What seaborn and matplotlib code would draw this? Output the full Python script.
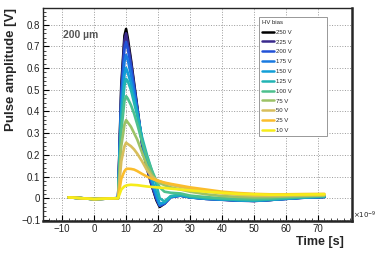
import matplotlib
matplotlib.use("Agg")
import matplotlib.pyplot as plt
import seaborn as sns
import pandas as pd
from matplotlib.lines import Line2D
from matplotlib.ticker import MultipleLocator

# time in ns
time_ns = [-8, 0, 7.5, 8.5, 9.5, 10, 10.5, 11.5, 12.5, 13.5, 15, 16.5, 18, 19.5,
           20.5, 22, 24, 27, 30, 35, 40, 45, 50, 55, 60, 65, 72]

bias_labels = ["250 V", "225 V", "200 V", "175 V", "150 V", "125 V",
               "100 V", "75 V", "50 V", "25 V", "10 V"]

v_250 = [0.004, -0.004, 0.0, 0.52, 0.75, 0.78, 0.74, 0.64, 0.53, 0.42, 0.25, 0.14, 0.06, -0.01,
         -0.04, -0.025, 0.008, 0.012, 0.005, -0.002, -0.006, -0.01, -0.012, -0.008, -0.002, 0.003, 0.006]
v_225 = [0.004, -0.004, 0.0, 0.50, 0.73, 0.76, 0.72, 0.63, 0.52, 0.41, 0.25, 0.14, 0.06, -0.005,
         -0.035, -0.025, 0.006, 0.012, 0.004, -0.003, -0.007, -0.011, -0.013, -0.008, -0.003, 0.002, 0.006]
v_200 = [0.004, -0.004, 0.0, 0.47, 0.69, 0.72, 0.69, 0.61, 0.51, 0.41, 0.26, 0.15, 0.07, 0.0,
         -0.035, -0.025, 0.005, 0.012, 0.004, -0.003, -0.007, -0.01, -0.012, -0.008, -0.003, 0.002, 0.006]
v_175 = [0.004, -0.004, 0.0, 0.43, 0.63, 0.66, 0.64, 0.57, 0.49, 0.40, 0.27, 0.16, 0.08, 0.01,
         -0.03, -0.02, 0.006, 0.013, 0.004, -0.003, -0.006, -0.01, -0.012, -0.008, -0.003, 0.002, 0.006]
v_150 = [0.004, -0.004, 0.0, 0.39, 0.57, 0.60, 0.58, 0.53, 0.46, 0.39, 0.27, 0.17, 0.09, 0.02,
         -0.025, -0.02, 0.008, 0.014, 0.005, -0.002, -0.005, -0.009, -0.011, -0.007, -0.002, 0.003, 0.007]
v_125 = [0.004, -0.004, 0.0, 0.36, 0.52, 0.55, 0.54, 0.50, 0.44, 0.38, 0.28, 0.20, 0.13, 0.06,
         0.0, -0.015, 0.01, 0.016, 0.007, 0.0, -0.004, -0.008, -0.01, -0.006, -0.001, 0.004, 0.008]
v_100 = [0.004, -0.004, 0.0, 0.31, 0.45, 0.47, 0.46, 0.43, 0.39, 0.34, 0.26, 0.19, 0.13, 0.08,
         0.05, 0.03, 0.025, 0.022, 0.012, 0.005, 0.0, -0.003, -0.005, -0.002, 0.002, 0.006, 0.01]
v_75 = [0.004, -0.004, 0.0, 0.24, 0.34, 0.36, 0.35, 0.33, 0.30, 0.27, 0.21, 0.15, 0.11, 0.08,
        0.07, 0.06, 0.05, 0.04, 0.03, 0.018, 0.01, 0.006, 0.004, 0.005, 0.008, 0.01, 0.012]
v_50 = [0.004, -0.004, 0.0, 0.17, 0.24, 0.256, 0.25, 0.24, 0.225, 0.205, 0.17, 0.13, 0.10, 0.085,
        0.078, 0.07, 0.062, 0.052, 0.044, 0.032, 0.022, 0.016, 0.012, 0.012, 0.013, 0.014, 0.015]
v_25 = [0.004, -0.004, 0.0, 0.09, 0.125, 0.134, 0.136, 0.135, 0.132, 0.125, 0.112, 0.10, 0.09, 0.082,
        0.078, 0.072, 0.066, 0.058, 0.05, 0.04, 0.03, 0.024, 0.02, 0.018, 0.018, 0.019, 0.02]
v_10 = [0.004, -0.004, 0.0, 0.04, 0.055, 0.058, 0.06, 0.062, 0.061, 0.06, 0.057, 0.054, 0.052, 0.05,
        0.049, 0.047, 0.044, 0.04, 0.036, 0.03, 0.025, 0.02, 0.018, 0.016, 0.016, 0.017, 0.018]

series = [v_250, v_225, v_200, v_175, v_150, v_125, v_100, v_75, v_50, v_25, v_10]

colors = ["#000000", "#3a2a8c", "#2352d6", "#1a7ae0", "#139fd6", "#22b4b4",
          "#4dc08e", "#9cc266", "#d8be5c", "#fbbd2c", "#f6ec1a"]

rows = []
for label, vals in zip(bias_labels, series):
    for t, v in zip(time_ns, vals):
        rows.append({"t": t, "v": v, "bias": label})
df = pd.DataFrame(rows)

sns.set_style("ticks")
plt.rcParams["font.family"] = ["Liberation Sans", "DejaVu Sans"]

fig = plt.figure(figsize=(3.8, 2.54), dpi=100)
ax = fig.add_axes([0.113, 0.13, 0.813, 0.837])

sns.lineplot(data=df, x="t", y="v", hue="bias", hue_order=bias_labels,
             palette=colors, linewidth=1.9, legend=False, ax=ax)

ax.set_xlim(-16, 80.6)
ax.set_ylim(-0.105, 0.875)
ax.xaxis.set_minor_locator(MultipleLocator(2))
ax.yaxis.set_minor_locator(MultipleLocator(0.02))
ax.set_yticks([-0.1, 0, 0.1, 0.2, 0.3, 0.4, 0.5, 0.6, 0.7, 0.8])
ax.set_yticklabels(["\u22120.1", "0", "0.1", "0.2", "0.3", "0.4", "0.5", "0.6", "0.7", "0.8"])
ax.set_xticks([-10, 0, 10, 20, 30, 40, 50, 60, 70])
ax.set_xticklabels(["\u221210", "0", "10", "20", "30", "40", "50", "60", "70"])
ax.tick_params(axis="both", which="major", direction="in", length=4, width=0.8,
               labelsize=7, pad=2, colors="black", labelcolor="#222222")
ax.tick_params(axis="both", which="minor", direction="in", length=2, width=0.6)
ax.grid(True, which="major", linestyle=":", linewidth=0.7, color="#9a9a9a")

for side in ["top", "left"]:
    ax.spines[side].set_linewidth(1.0)
for side in ["right", "bottom"]:
    ax.spines[side].set_linewidth(1.8)

ax.set_xlabel("Time [s]", fontsize=9, weight="bold", loc="right", labelpad=3)
ax.xaxis.set_label_coords(0.975, -0.07)
ax.xaxis.label.set_va("top")
ax.set_ylabel("Pulse amplitude [V]", fontsize=9.5, weight="bold", loc="top", labelpad=3)
ax.text(1.005, 0.025, r"$\times10^{-9}$", transform=ax.transAxes, fontsize=5,
        ha="left", va="center", color="#222222")
ax.text(0.065, 0.875, "200 \u00b5m", transform=ax.transAxes, fontsize=7.5,
        weight="bold", color="#555555", ha="left", va="center")

handles = [Line2D([0], [0], color=c, lw=1.8) for c in colors]
leg = ax.legend(handles=handles, labels=bias_labels, title="HV bias",
                loc="upper left", bbox_to_anchor=(0.699, 0.0, 0.22, 0.96),
                mode="expand", fontsize=4.3, title_fontsize=4.3,
                frameon=True, fancybox=False, edgecolor="#888888",
                framealpha=1.0, borderaxespad=0, borderpad=0.5,
                labelspacing=0.78, handlelength=2.0, handletextpad=0.4,
                alignment="left")
leg.get_frame().set_linewidth(0.6)

fig.savefig("out.png", dpi=100)
